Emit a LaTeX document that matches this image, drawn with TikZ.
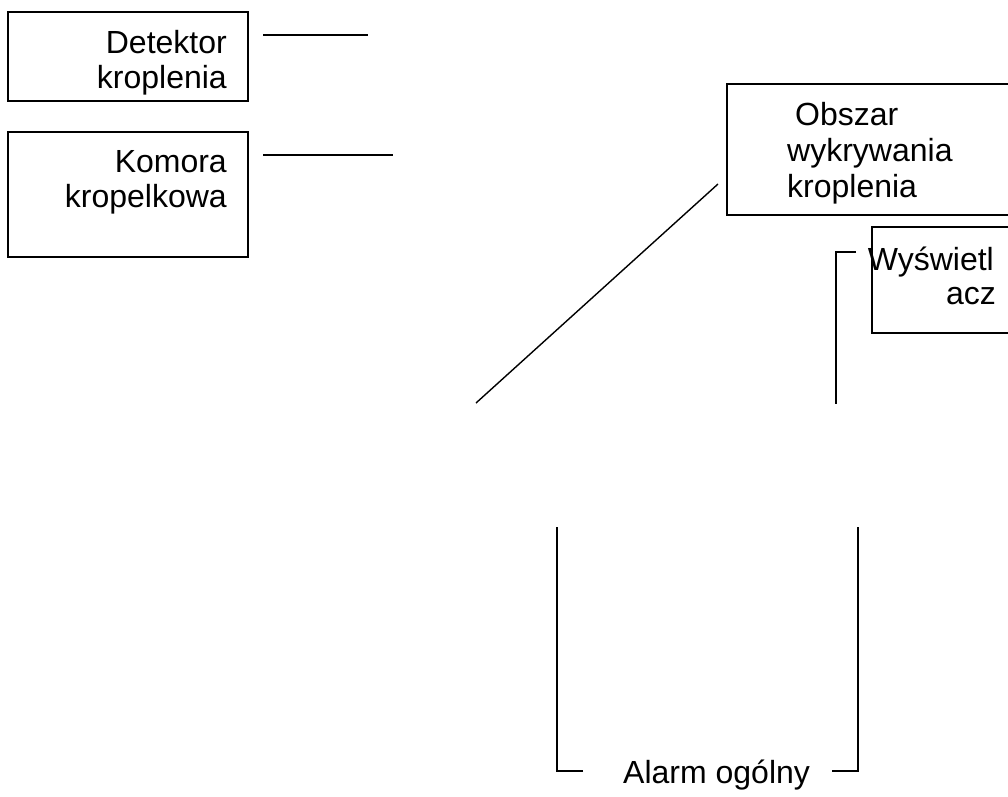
\documentclass[tikz,border=0pt]{standalone}
\usepackage{fontspec}
\setmainfont{Liberation Sans}
\begin{document}
\begin{tikzpicture}[x=1pt,y=-1pt,
  box/.style={draw=black,line width=1.4pt},
  wire/.style={draw=black,line width=1.4pt},
  lbl/.style={inner sep=0pt,font=\fontsize{32}{36}\selectfont}]
\useasboundingbox (0,0) rectangle (1008,796);
\fill[white] (0,0) rectangle (1008,796);
% boxes
\draw[box] (8,12) rectangle (248,101);
\draw[box] (8,132) rectangle (248,257);
\draw[box] (727,84) rectangle (1030,215);
\draw[box] (872,227) rectangle (1030,333);
% texts
\node[lbl,anchor=base east] (t1) at (227,53) {Detektor};
\node[lbl,anchor=base east] (t2) at (227,88) {kroplenia};
\node[lbl,anchor=base east] (t3) at (227,172) {Komora};
\node[lbl,anchor=base east] (t4) at (227,207) {kropelkowa};
\node[lbl,anchor=base west] (t5) at (795,125) {Obszar};
\node[lbl,anchor=base west] (t6) at (787,161) {wykrywania};
\node[lbl,anchor=base west] (t7) at (787,197) {kroplenia};
\node[lbl,anchor=base east] (t8) at (994,270) {Wyświetl};
\node[lbl,anchor=base east] (t9) at (996,304) {acz};
\node[lbl,anchor=base west] (t10) at (623,783) {Alarm ogólny};
% connectors
\coordinate (a1) at (263,35); \coordinate (a2) at (368,35);
\coordinate (b1) at (263,155); \coordinate (b2) at (393,155);
\coordinate (c1) at (718,184); \coordinate (c2) at (476,403);
\coordinate (d1) at (856,252); \coordinate (d2) at (836,252); \coordinate (d3) at (836,404);
\coordinate (e1) at (583,771); \coordinate (e2) at (557,771); \coordinate (e3) at (557,527);
\coordinate (f1) at (832,771); \coordinate (f2) at (858,771); \coordinate (f3) at (858,527);
\draw[wire] (a1) -- (a2);
\draw[wire] (b1) -- (b2);
\draw[wire] (c1) -- (c2);
\draw[wire] (d1) -- (d2) -- (d3);
\draw[wire] (e1) -- (e2) -- (e3);
\draw[wire] (f1) -- (f2) -- (f3);
\end{tikzpicture}
\end{document}
